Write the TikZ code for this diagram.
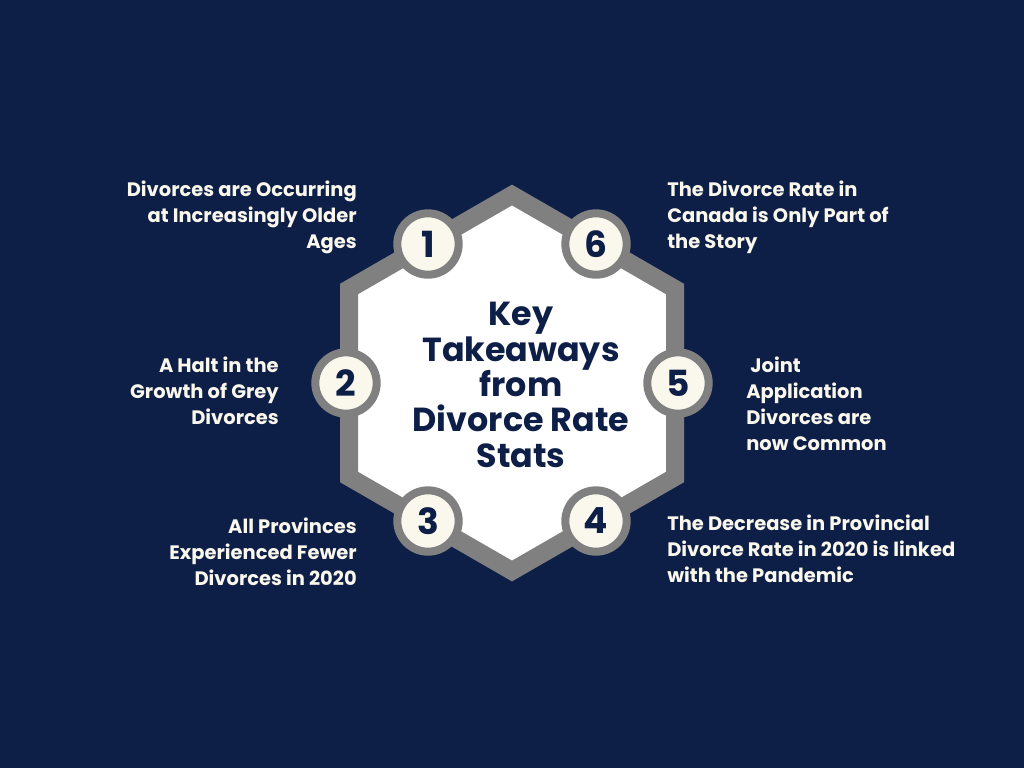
\documentclass[tikz,border=0pt]{standalone}
\usepackage{fontspec}
\setmainfont{Poppins}
\definecolor{navy}{RGB}{14,31,71}
\definecolor{ring}{RGB}{128,128,128}
\definecolor{cream}{RGB}{250,247,236}
\tikzset{
  note/.style={text=cream,font=\bfseries\fontsize{14.6}{19.5}\selectfont,inner sep=0pt},
  badge/.style={circle,draw=ring,line width=6pt,fill=cream,minimum size=46pt,text=navy,font=\bfseries\fontsize{27}{27}\selectfont,inner sep=0pt}
}
\begin{document}
\begin{tikzpicture}[x=0.75pt,y=0.75pt,yscale=-1,xscale=1]
%background
\fill[navy] (0,0) rectangle (1024,768);
\useasboundingbox (0,0) rectangle (1024,768);

%Shape: Hexagon
\draw[ring,line width=13.5pt,fill=white,line join=miter] (512,195) -- (349,289) -- (349,477) -- (512,571) -- (675,477) -- (675,289) -- cycle;

%Circles
\foreach \n/\x/\y in {1/428/244,6/596/244,2/346/383,5/678/383,3/428/521,4/596/521}
  \node[badge] (b\n) at (\x,\y) {\n};

% Text Node
\node[font=\bfseries\fontsize{25}{26.5}\selectfont,text=navy,align=center] (title) at (521,385) {Key\\Takeaways\\from\\Divorce Rate\\Stats};

% Text Node
\node[note,anchor=north east,align=right] (t1) at (357,181) {Divorces are Occurring\\at Increasingly Older\\Ages};
% Text Node
\node[note,anchor=north east,align=right] (t2) at (279,357) {A Halt in the\\Growth of Grey\\Divorces};
% Text Node
\node[note,anchor=north east,align=right] (t3) at (357,518) {All Provinces\\Experienced Fewer\\Divorces in 2020};
% Text Node
\node[note,anchor=north west,align=left] (t4) at (667,515) {The Decrease in Provincial\\Divorce Rate in 2020 is linked\\with the Pandemic};
% Text Node
\node[note,anchor=north west,align=left] (t5) at (746,357) {\ Joint\\Application\\Divorces are\\now Common};
% Text Node
\node[note,anchor=north west,align=left] (t6) at (667,181) {The Divorce Rate in\\Canada is Only Part of\\the Story};
\end{tikzpicture}
\end{document}
